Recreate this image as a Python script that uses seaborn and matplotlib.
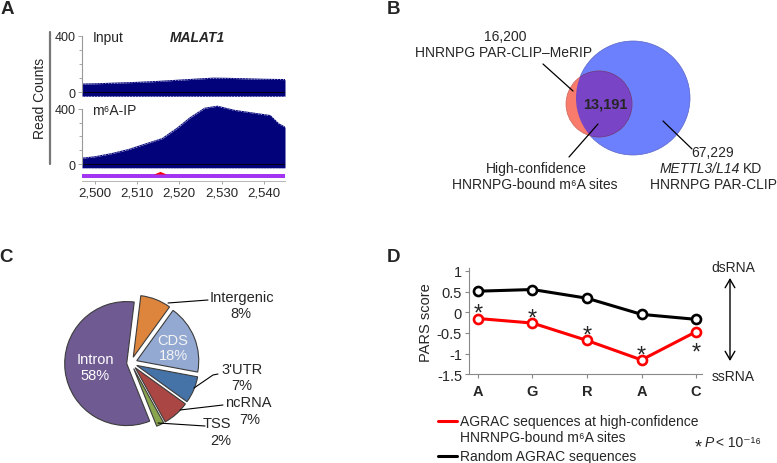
import numpy as np
import pandas as pd
import seaborn as sns
import matplotlib.pyplot as plt
from matplotlib.patches import Circle
from matplotlib.lines import Line2D

# data
input_pos = [2497, 2500, 2505, 2510, 2515, 2520, 2525, 2528, 2531, 2535, 2540, 2545]
input_counts = [58, 60, 65, 70, 77, 86, 95, 100, 99, 96, 92, 90]
ip_pos = [2497, 2500, 2504, 2508, 2512, 2516, 2519.5, 2522.5, 2526, 2529, 2533, 2537, 2541.5, 2543.5, 2545]
ip_counts = [42, 52, 75, 105, 145, 185, 260, 335, 405, 420, 390, 372, 352, 292, 268]
m6a_site = 2515.4
coord_ticks = [2500, 2510, 2520, 2530, 2540]

venn_counts = {'merip': '16,200', 'overlap': '13,191', 'kd': '67,229'}

region_names = ['Intron', 'TSS', 'ncRNA', "3'UTR", 'CDS', 'Intergenic']
region_share = [58, 2, 7, 7, 18, 8]
region_colors = ['#6f5a92', '#89a54e', '#aa4643', '#4572a7', '#93a9d2', '#dd843d']

motif_letters = ['A', 'G', 'R', 'A', 'C']
pars_hnrnpg = [-0.15, -0.26, -0.68, -1.15, -0.47]
pars_random = [0.51, 0.55, 0.34, -0.05, -0.17]
star_side = ['above', 'above', 'above', 'above', 'below']
pars_ticks = [-1.5, -1, -0.5, 0, 0.5, 1]
pars_ticklabels = ['-1.5', '-1', '-0.5', '0', '0.5', '1']

# style
sns.set_style('white')
plt.rcParams['font.family'] = ['Liberation Sans', 'DejaVu Sans']

W, H = 777, 464
fig = plt.figure(figsize=(W / 100, H / 100), dpi=100)


def box(l, t, r, b):
    return [l / W, 1 - b / H, (r - l) / W, (b - t) / H]


def fp(x, y):
    return (x / W, 1 - y / H)


def ftext(x, y, s, **kw):
    fig.text(x / W, 1 - y / H, s, **kw)


# panel labels
for lab, (x, y) in zip('ABCD', [(7, 10), (394, 10), (6, 258), (394, 257)]):
    ftext(x, y, lab, fontsize=13.5, fontweight='bold', ha='center', va='center')

# ---------- A: coverage tracks ----------
navy = '#02027a'
xlim_a = (2497, 2545)
tracks = [
    (box(82, 30, 285, 100), (-47.6, 449), input_pos, input_counts),
    (box(82, 102, 285, 171), (-43.6, 458), ip_pos, ip_counts),
]
for rect, ylim, pos, cnt in tracks:
    ax = fig.add_axes(rect)
    ax.fill_between(pos, -28, cnt, color=navy, lw=0)
    sns.lineplot(x=pos, y=cnt, ax=ax, color=navy, lw=0.8)
    ax.plot(pos, cnt, color='#c8c8e8', lw=0.6, ls=(0, (1, 2.5)))
    ax.axhline(-28, color='#c8c8e8', lw=0.6, ls=(0, (1, 2.5)))
    ax.axhline(0, color='black', lw=0.6)
    ax.set_xlim(*xlim_a)
    ax.set_ylim(*ylim)
    for s in ['top', 'right', 'bottom']:
        ax.spines[s].set_visible(False)
    ax.spines['left'].set_bounds(0, 400)
    ax.spines['left'].set_color('#999999')
    ax.spines['left'].set_linewidth(0.8)
    ax.set_xticks([])
    ax.set_yticks([0, 400])
    ax.set_yticks([100, 200, 300], minor=True)
    ax.tick_params(axis='y', which='major', left=True, length=3, width=0.6,
                   color='#999999', labelsize=9, pad=1.5)
    ax.tick_params(axis='y', which='minor', left=True, length=2, width=0.6,
                   color='#999999')
    ax.patch.set_alpha(0)

ax_bar = fig.add_axes(box(82, 168, 285, 182))
ax_bar.set_xlim(*xlim_a)
ax_bar.set_ylim(0, 1)
ax_bar.axhspan(0.18, 0.5, color='#a234f2', lw=0)
ax_bar.plot([m6a_site], [0.53], marker=[(-1, 0), (1, 0), (0, 0.42)], ms=9,
            color='#ff0000', mew=0)
for s in ['top', 'right', 'left']:
    ax_bar.spines[s].set_visible(False)
ax_bar.spines['bottom'].set_color('#aaaaaa')
ax_bar.spines['bottom'].set_linewidth(0.6)
ax_bar.set_yticks([])
ax_bar.set_xticks(coord_ticks, labels=[f'{v:,}' for v in coord_ticks])
ax_bar.tick_params(axis='x', bottom=True, length=2.5, width=0.6, color='#999999',
                   labelsize=9.5, pad=1.5)
ax_bar.patch.set_alpha(0)

fig.add_artist(Line2D([50 / W, 50 / W], [1 - 33 / H, 1 - 165 / H], color='#777777', lw=1.6))
ftext(40, 98, 'Read Counts', rotation=90, ha='center', va='center', fontsize=10)
ftext(93, 38, 'Input', ha='left', va='center', fontsize=10)
ftext(197, 38, 'MALAT1', ha='center', va='center', fontsize=10,
      fontweight='bold', fontstyle='italic')
ftext(92, 111, 'm⁶A-IP', ha='left', va='center', fontsize=10)

# ---------- B: Venn ----------
ax_b = fig.add_axes(box(390, 20, 770, 230))
ax_b.set_xlim(390, 770)
ax_b.set_ylim(230, 20)
ax_b.axis('off')
blue = Circle((633, 99), 57, fc='#6c7ffc', ec='#5a66c8', lw=0.5)
red = Circle((599, 105), 33, fc='#f87b6c', ec='#c86a60', lw=0.5)
purple = Circle((599, 105), 33, fc='#7a44c6', ec='#5a3a9a', lw=0.5)
ax_b.add_patch(blue)
ax_b.add_patch(red)
ax_b.add_patch(purple)
purple.set_clip_path(blue)
ax_b.text(605, 105, venn_counts['overlap'], ha='center', va='center',
          fontsize=10.5, fontweight='bold')
ax_b.text(505, 37, venn_counts['merip'], ha='center', va='center', fontsize=10)
ax_b.text(504, 53, 'HNRNPG PAR-CLIP–MeRIP', ha='center', va='center', fontsize=10)
ax_b.text(536, 169, 'High-confidence', ha='center', va='center', fontsize=10)
ax_b.text(535, 185, 'HNRNPG-bound m⁶A sites', ha='center', va='center', fontsize=10)
ax_b.text(713, 153, venn_counts['kd'], ha='center', va='center', fontsize=10)
ax_b.text(740, 169, 'METTL3/L14', ha='right', va='center', fontsize=10, fontstyle='italic')
ax_b.text(743, 169, 'KD', ha='left', va='center', fontsize=10)
ax_b.text(713, 185, 'HNRNPG PAR-CLIP', ha='center', va='center', fontsize=10)
for (x0, y0), (x1, y1) in [((543, 65), (573, 92)), ((569, 158), (598, 125)),
                           ((663, 122), (692, 150))]:
    ax_b.plot([x0, x1], [y0, y1], color='black', lw=0.9)

# ---------- C: pie ----------
cx, cy, rad = 131, 364, 62
half = 80
ax_c = fig.add_axes(box(cx - half, cy - half, cx + half, cy + half))
explode = [0.07] + [0.1] * (len(region_share) - 1)
ax_c.pie(region_share, colors=region_colors, explode=[e * rad / half for e in explode],
         startangle=83, counterclock=True, radius=rad / half,
         wedgeprops=dict(edgecolor='#3c3c3c', linewidth=0.8))
ax_c.set_autoscale_on(False)
ax_c.set_xlim(-1, 1)
ax_c.set_ylim(-1, 1)
ax_c.set_axis_off()

ftext(95, 368, f'{region_names[0]}\n{region_share[0]}%', color='white',
      ha='center', va='center', fontsize=10.5, linespacing=1.15)
ftext(173, 348.5, f'{region_names[4]}\n{region_share[4]}%', color='#f4f4f4',
      ha='center', va='center', fontsize=10.5, linespacing=1.15)
ftext(210, 298, region_names[5], ha='left', va='center', fontsize=10.5)
ftext(241, 314, f'{region_share[5]}%', ha='center', va='center', fontsize=10.5)
ftext(242, 370, region_names[3], ha='center', va='center', fontsize=10.5)
ftext(242, 386, f'{region_share[3]}%', ha='center', va='center', fontsize=10.5)
ftext(248, 403, region_names[2], ha='center', va='center', fontsize=10.5)
ftext(250, 420, f'{region_share[2]}%', ha='center', va='center', fontsize=10.5)
ftext(217, 424, region_names[1], ha='center', va='center', fontsize=10.5)
ftext(221, 441, f'{region_share[1]}%', ha='center', va='center', fontsize=10.5)
for pts in [[(168, 304), (208, 301)], [(194, 389), (213, 376), (218, 375)],
            [(180, 411), (223, 406)], [(158, 424), (205, 427)]]:
    xs = [p[0] / W for p in pts]
    ys = [1 - p[1] / H for p in pts]
    fig.add_artist(Line2D(xs, ys, color='black', lw=0.8))

# ---------- D: PARS ----------
ax_d = fig.add_axes(box(469, 269, 702, 375.4))
xpos = list(range(len(motif_letters)))
sns.lineplot(x=xpos, y=pars_random, ax=ax_d, color='black', lw=2.2, marker='o',
             ms=6.5, mfc='white', mec='black', mew=1.9)
sns.lineplot(x=xpos, y=pars_hnrnpg, ax=ax_d, color='#ff0000', lw=2.2, marker='o',
             ms=6.5, mfc='white', mec='#ff0000', mew=1.9)
for x, y, side in zip(xpos, pars_hnrnpg, star_side):
    off = -1 if side == 'above' else -19.5
    ax_d.annotate('*', (x, y), xytext=(0, off), textcoords='offset points',
                  ha='center', va='baseline', fontsize=17)
ax_d.set_xlim(-0.165, 4.11)
ax_d.set_ylim(-1.5, 1.07)
ax_d.set_xticks(xpos, labels=motif_letters)
ax_d.set_yticks(pars_ticks, labels=pars_ticklabels)
for s in ['top', 'right']:
    ax_d.spines[s].set_visible(False)
for s in ['left', 'bottom']:
    ax_d.spines[s].set_color('#888888')
    ax_d.spines[s].set_linewidth(0.8)
ax_d.tick_params(axis='both', direction='out', length=3, width=0.8, color='#888888')
ax_d.tick_params(axis='y', labelsize=10.5, pad=2, left=True)
ax_d.tick_params(axis='x', labelsize=10.5, pad=4, bottom=True)
for t in ax_d.get_xticklabels():
    t.set_fontweight('bold')
ax_d.set_ylabel('PARS score', fontsize=10.5, labelpad=3)
ax_d.patch.set_alpha(0)

# legend, drawn by hand
fig.add_artist(Line2D([438 / W, 457 / W], [1 - 422 / H] * 2, color='#ff0000', lw=2.2))
fig.add_artist(Line2D([438 / W, 457 / W], [1 - 457 / H] * 2, color='black', lw=2.2))
ftext(460, 422, 'AGRAC sequences at high-confidence', ha='left', va='center', fontsize=10)
ftext(460, 438, 'HNRNPG-bound m⁶A sites', ha='left', va='center', fontsize=10)
ftext(460, 457, 'Random AGRAC sequences', ha='left', va='center', fontsize=10)
ftext(698, 452, '*', ha='center', va='baseline', fontsize=13)
ftext(705, 443, 'P', ha='left', va='center', fontsize=10, fontstyle='italic')
ftext(716, 443, '< 10⁻¹⁶', ha='left', va='center', fontsize=10)

ftext(733, 268, 'dsRNA', ha='center', va='center', fontsize=10)
ftext(733, 377, 'ssRNA', ha='center', va='center', fontsize=10)
fig.add_artist(plt.Annotation('', xy=fp(730, 279), xytext=fp(730, 362),
                              xycoords='figure fraction', textcoords='figure fraction',
                              arrowprops=dict(arrowstyle='<->,head_length=0.6,head_width=0.35',
                                              lw=1, color='black', shrinkA=0, shrinkB=0)))

fig.savefig('out.png', dpi=100)
